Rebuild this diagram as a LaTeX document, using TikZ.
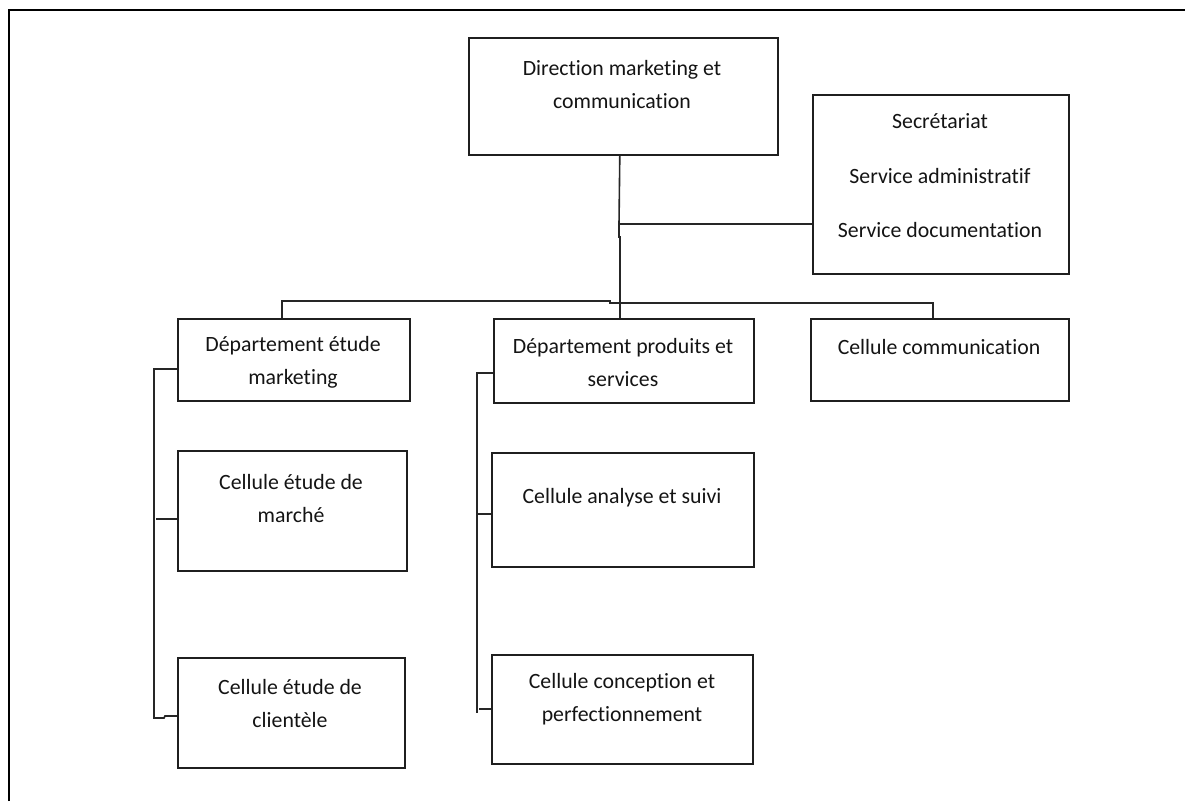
\documentclass[tikz,border=0pt]{standalone}
\usepackage{fontspec}
\setmainfont{Carlito}[Ligatures=NoCommon]
\usetikzlibrary{calc}
\begin{document}
\begin{tikzpicture}[x=1pt,y=-1pt,
  box/.style={draw=black!88, line width=1.6pt, inner sep=0pt, anchor=north west},
  txt/.style={align=center, inner sep=0pt, text=black!92, font=\fontsize{21.8}{33}\selectfont},
  link/.style={draw=black!85, line width=1.6pt}]
\useasboundingbox (0,0) rectangle (1185,801);
% page frame
\draw[line width=2.2pt] (9,801) -- (9,10) -- (1185,10);

% boxes
\node[box, minimum width=309pt, minimum height=117pt] (dir) at (468,37) {};
\node[box, minimum width=256pt, minimum height=179pt] (sec) at (812,94) {};
\node[box, minimum width=232pt, minimum height=82pt] (dem) at (177,318) {};
\node[box, minimum width=260pt, minimum height=84pt] (dps) at (493,318) {};
\node[box, minimum width=258pt, minimum height=82pt] (ccom) at (810,318) {};
\node[box, minimum width=229pt, minimum height=120pt] (cmar) at (177,450) {};
\node[box, minimum width=227pt, minimum height=110pt] (ccli) at (177,657) {};
\node[box, minimum width=262pt, minimum height=114pt] (cana) at (491,452) {};
\node[box, minimum width=261pt, minimum height=109pt] (ccon) at (491,654) {};

% texts
\node[txt] (tdir) at (622,85) {Direction marketing et\\communication};
\node[txt] (tsec1) at (940,121) {Secrétariat};
\node[txt] (tsec2) at (940,176) {Service administratif};
\node[txt] (tsec3) at (940,230) {Service documentation};
\node[txt] (tdem) at (293,362) {Département étude\\marketing};
\node[txt] (tdps) at (623,363) {Département produits et\\services};
\node[txt] (tccom) at (939,347) {Cellule communication};
\node[txt] (tcmar) at (291,499) {Cellule étude de\\marché};
\node[txt] (tccli) at (290,703) {Cellule étude de\\clientèle};
\node[txt] (tcana) at (622,498) {Cellule analyse et suivi};
\node[txt] (tccon) at (622,699) {Cellule conception et\\perfectionnement};

% main connectors
\coordinate (jsec) at (619,224);
\coordinate (jmid) at (620,237);
\coordinate (jbar) at (610,301);
\draw[link] ($(dir.south)+(-3.5,0)$) -- (jsec) -- (sec.west |- jsec);
\draw[link] (jsec) -- (619,237) -- (jmid) -- (dps.north -| jmid);
\draw[link] (dem.north -| 282,0) -- (282,301) -- (jbar) -- (610,303) -- (933,303) -- (ccom.north -| 933,0);

% left bracket
\coordinate (lb) at (154,369);
\draw[link] (dem.west |- lb) -- (lb) -- (154,718) -- (164,718) -- (165,716) -- (ccli.west |- 0,716);
\draw[link] (156,519) -- (cmar.west |- 0,519);

% middle bracket
\coordinate (mb) at (477,373);
\draw[link] (dps.west |- mb) -- (mb) -- (477,713);
\draw[link] (477,514) -- (cana.west |- 0,514);
\draw[link] (479,709) -- (ccon.west |- 0,709);
\end{tikzpicture}
\end{document}
